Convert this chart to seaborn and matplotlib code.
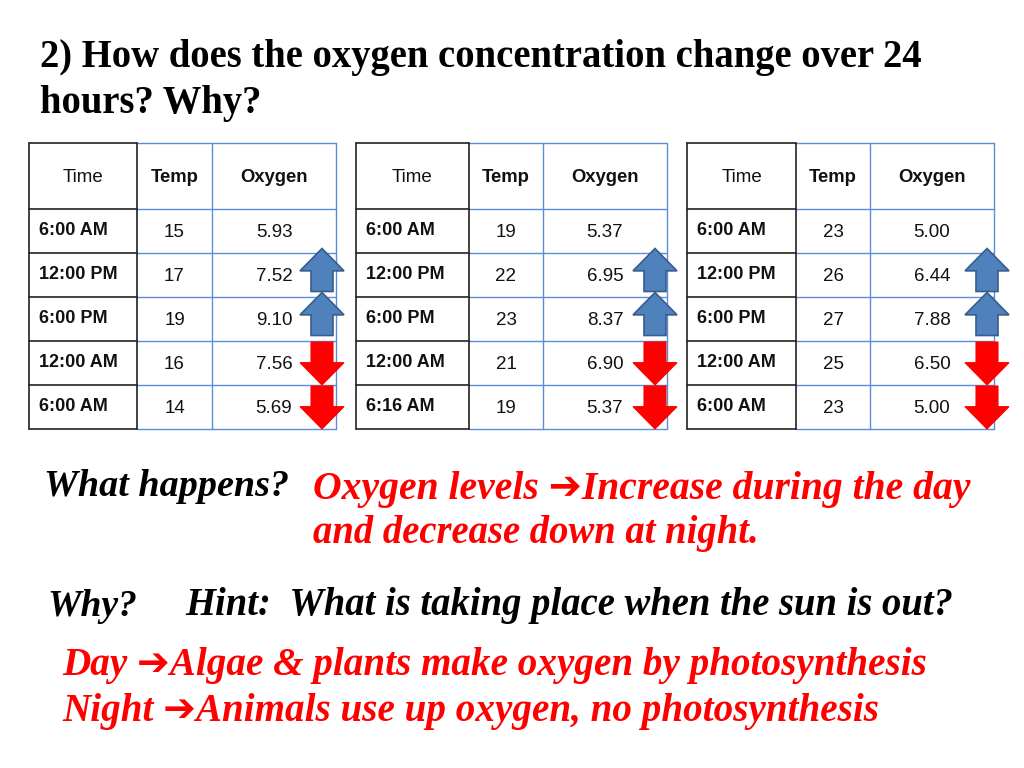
import matplotlib
matplotlib.use("Agg")
import matplotlib.pyplot as plt
from matplotlib.patches import Polygon
import seaborn as sns

# ---------------- data ----------------
title_lines = ["2) How does the oxygen concentration change over 24", "hours? Why?"]
headers = ["Time", "Temp", "Oxygen"]
times_1 = ["6:00 AM", "12:00 PM", "6:00 PM", "12:00 AM", "6:00 AM"]
times_2 = ["6:00 AM", "12:00 PM", "6:00 PM", "12:00 AM", "6:16 AM"]
times_3 = ["6:00 AM", "12:00 PM", "6:00 PM", "12:00 AM", "6:00 AM"]
temps_1 = [15, 17, 19, 16, 14]
temps_2 = [19, 22, 23, 21, 19]
temps_3 = [23, 26, 27, 25, 23]
oxygen_1 = [5.93, 7.52, 9.10, 7.56, 5.69]
oxygen_2 = [5.37, 6.95, 8.37, 6.90, 5.37]
oxygen_3 = [5.00, 6.44, 7.88, 6.50, 5.00]

# ---------------- style ----------------
sns.set_theme(style="white")
plt.rcParams["font.family"] = ["Liberation Sans", "DejaVu Sans"]

BLUE_LINE = "#5B8DDB"
UP_FILL = "#4F81BD"
UP_EDGE = "#385D8A"
RED = "#FF0000"

fig = plt.figure(figsize=(10.24, 7.68), dpi=100)
ax = fig.add_axes([0, 0, 1, 1])
ax.set_xlim(0, 1024)
ax.set_ylim(768, 0)
ax.axis("off")
renderer = fig.canvas.get_renderer()


def fit_text(x_left, x_right, y, s, base_size, **kw):
    t = ax.text(x_left, y, s, fontsize=base_size, ha="left", va="center", **kw)
    w = t.get_window_extent(renderer).width
    t.set_fontsize(base_size * (x_right - x_left) / w)
    return t


SERIF = ["Liberation Serif", "DejaVu Sans"]

# ---------------- title ----------------
t0 = fit_text(40, 921, 58, title_lines[0], 25, family=SERIF, weight="bold", color="black")
ax.text(40, 104, title_lines[1], fontsize=t0.get_fontsize(), family=SERIF, weight="bold",
        ha="left", va="center", color="black")

# ---------------- tables ----------------
tables = [
    (times_1, temps_1, oxygen_1, [29, 137, 212, 336], -14),
    (times_2, temps_2, oxygen_2, [356, 469, 543, 667], -12),
    (times_3, temps_3, oxygen_3, [687, 796, 870, 994], -7),
]
ys = [143, 209, 253, 297, 341, 385, 429]
TXT = "#111111"


def arrow(cx, cy, up, h=43, w=44, sw=22):
    hh = h * 0.52
    if up:
        top = cy - h / 2
        pts = [(cx, top), (cx + w / 2, top + hh), (cx + sw / 2, top + hh),
               (cx + sw / 2, top + h), (cx - sw / 2, top + h),
               (cx - sw / 2, top + hh), (cx - w / 2, top + hh)]
        p = Polygon(pts, closed=True, facecolor=UP_FILL, edgecolor=UP_EDGE, lw=1.2, zorder=5)
    else:
        bot = cy + h / 2
        pts = [(cx, bot), (cx + w / 2, bot - hh), (cx + sw / 2, bot - hh),
               (cx + sw / 2, bot - h), (cx - sw / 2, bot - h),
               (cx - sw / 2, bot - hh), (cx - w / 2, bot - hh)]
        p = Polygon(pts, closed=True, facecolor=RED, edgecolor=RED, lw=0.8, zorder=5)
    ax.add_patch(p)


for times, temps, oxy, xs, aoff in tables:
    x0, x1, x2, x3 = xs
    # blue grid for Temp / Oxygen columns
    for y in ys:
        ax.plot([x1, x3], [y, y], color=BLUE_LINE, lw=1.0, zorder=2)
    for x in (x2, x3):
        ax.plot([x, x], [ys[0], ys[-1]], color=BLUE_LINE, lw=1.0, zorder=2)
    # black grid for Time column
    for y in ys:
        ax.plot([x0, x1], [y, y], color="#222222", lw=1.2, zorder=3)
    for x in (x0, x1):
        ax.plot([x, x], [ys[0], ys[-1]], color="#222222", lw=1.2, zorder=3)
    # headers
    hy = (ys[0] + ys[1]) / 2 + 2
    ax.text((x0 + x1) / 2, hy, headers[0], ha="center", va="center", fontsize=13.5, color=TXT)
    ax.text((x1 + x2) / 2, hy, headers[1], ha="center", va="center", fontsize=13.3, weight="bold", color=TXT)
    ax.text((x2 + x3) / 2, hy, headers[2], ha="center", va="center", fontsize=13.3, weight="bold", color=TXT)
    # rows
    for i in range(5):
        cy = (ys[i + 1] + ys[i + 2]) / 2
        ax.text(x0 + 10, cy - 0.5, times[i], ha="left", va="center", fontsize=13, weight="bold", color=TXT)
        ax.text((x1 + x2) / 2, cy + 1.5, str(temps[i]), ha="center", va="center", fontsize=13.5, color=TXT)
        ax.text((x2 + x3) / 2, cy + 1.5, f"{oxy[i]:.2f}", ha="center", va="center", fontsize=13.5, color=TXT)
        if i > 0:
            up = oxy[i] > oxy[i - 1]
            arrow(x3 + aoff, cy - 5 if up else cy + 0.5, up)

# ---------------- explanation text ----------------
BI = dict(family=SERIF, weight="bold", style="italic")
fit_text(44, 289, 486, "What happens?", 26, color="black", **BI)
fit_text(313, 970, 489, "Oxygen levels \u2794Increase during the day", 26, color=RED, **BI)
fit_text(313, 758, 533, "and decrease down at night.", 26, color=RED, **BI)
fit_text(47, 137, 607, "Why?", 26, color="black", **BI)
fit_text(185, 952, 605, "Hint:  What is taking place when the sun is out?", 26, color="black", **BI)
fit_text(62, 928, 666, "Day \u2794Algae & plants make oxygen by photosynthesis", 26, color=RED, **BI)
fit_text(62, 880, 712, "Night \u2794Animals use up oxygen, no photosynthesis", 26, color=RED, **BI)

fig.savefig("out.png", dpi=100, facecolor="white")
